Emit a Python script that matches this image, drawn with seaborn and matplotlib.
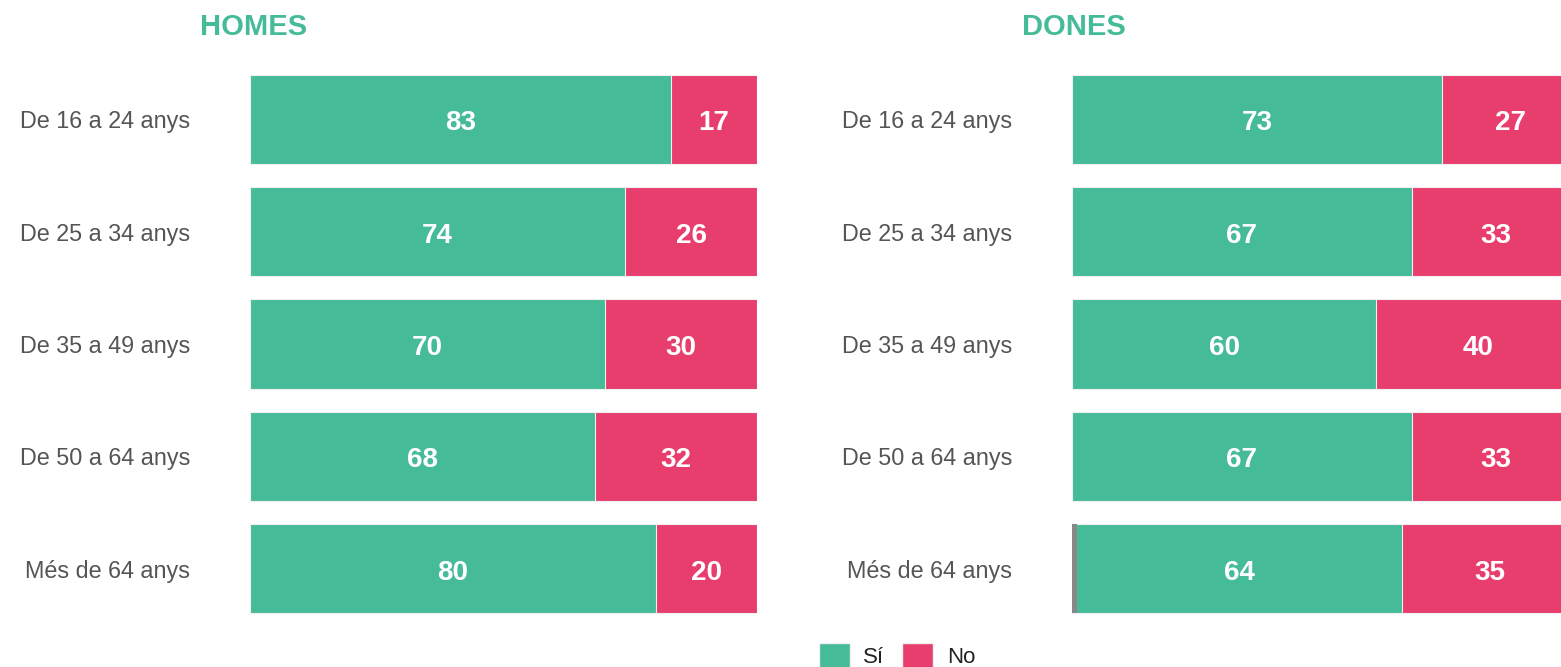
import numpy as np
import pandas as pd
import matplotlib
matplotlib.use("Agg")
import matplotlib.pyplot as plt
import matplotlib.patches as mpatches
import seaborn as sns

# data
grups = ["De 16 a 24 anys", "De 25 a 34 anys", "De 35 a 49 anys", "De 50 a 64 anys", "Més de 64 anys"]
homes_si = [83, 74, 70, 68, 80]
homes_no = [17, 26, 30, 32, 20]
homes_ns = [0, 0, 0, 0, 0]
dones_si = [73, 67, 60, 67, 64]
dones_no = [27, 33, 40, 33, 35]
dones_ns = [0, 0, 0, 0, 1]

verd = "#45BB98"
rosa = "#E83E6E"
gris = "#888888"

sns.set_theme(style="white")
plt.rcParams["font.family"] = ["Liberation Sans", "DejaVu Sans"]

fig = plt.figure(figsize=(15.61, 6.67), dpi=100)
ax1 = fig.add_axes([250 / 1561, 1 - 625 / 667, 507 / 1561, 562 / 667])
ax2 = fig.add_axes([1072 / 1561, 1 - 625 / 667, 507 / 1561, 562 / 667])


def panel(ax, si, no, ns):
    df = pd.DataFrame({"grup": grups, "si": si, "no": no, "ns": ns})
    df["tot"] = df["ns"] + df["si"] + df["no"]
    df["ns_si"] = df["ns"] + df["si"]
    w = 89 / 112
    sns.barplot(data=df, x="tot", y="grup", color=rosa, saturation=1, width=w,
                orient="h", ax=ax, edgecolor="#f0f0f0", linewidth=0.8)
    sns.barplot(data=df, x="ns_si", y="grup", color=verd, saturation=1, width=w,
                orient="h", ax=ax, edgecolor="#f0f0f0", linewidth=0.8)
    sns.barplot(data=df, x="ns", y="grup", color=gris, saturation=1, width=w,
                orient="h", ax=ax, linewidth=0)
    for i, r in df.iterrows():
        ax.text(r["ns"] + r["si"] / 2, i + 0.035, str(r["si"]), ha="center", va="center",
                color="white", fontsize=20, fontweight="bold")
        ax.text(r["ns_si"] + r["no"] / 2, i + 0.035, str(r["no"]), ha="center", va="center",
                color="white", fontsize=20, fontweight="bold")
    ax.set_xlim(0, 100)
    ax.set_ylim(4.5, -0.5)
    ax.set_xlabel("")
    ax.set_ylabel("")
    ax.set_xticks([])
    sns.despine(ax=ax, left=True, bottom=True)
    ax.tick_params(axis="y", length=0, pad=43, labelsize=16.8, labelcolor="#555555")


panel(ax1, homes_si, homes_no, homes_ns)
panel(ax2, dones_si, dones_no, dones_ns)

fig.text(200 / 1561, 1 - 27 / 667, "HOMES", color=verd, fontsize=21, fontweight="bold",
         ha="left", va="center")
fig.text(1022 / 1561, 1 - 27 / 667, "DONES", color=verd, fontsize=21, fontweight="bold",
         ha="left", va="center")

handles = [mpatches.Patch(facecolor=verd, edgecolor="#f0f0f0", label="Sí"),
           mpatches.Patch(facecolor=rosa, edgecolor="#f0f0f0", label="No")]
fig.legend(handles=handles, loc="center", bbox_to_anchor=(897 / 1561, 1 - 656 / 667),
           ncol=2, frameon=False, fontsize=16, handlelength=1.4, handleheight=1.4,
           handletextpad=0.6, columnspacing=0.8, labelcolor="#222222")

fig.savefig("out.png", dpi=100)
